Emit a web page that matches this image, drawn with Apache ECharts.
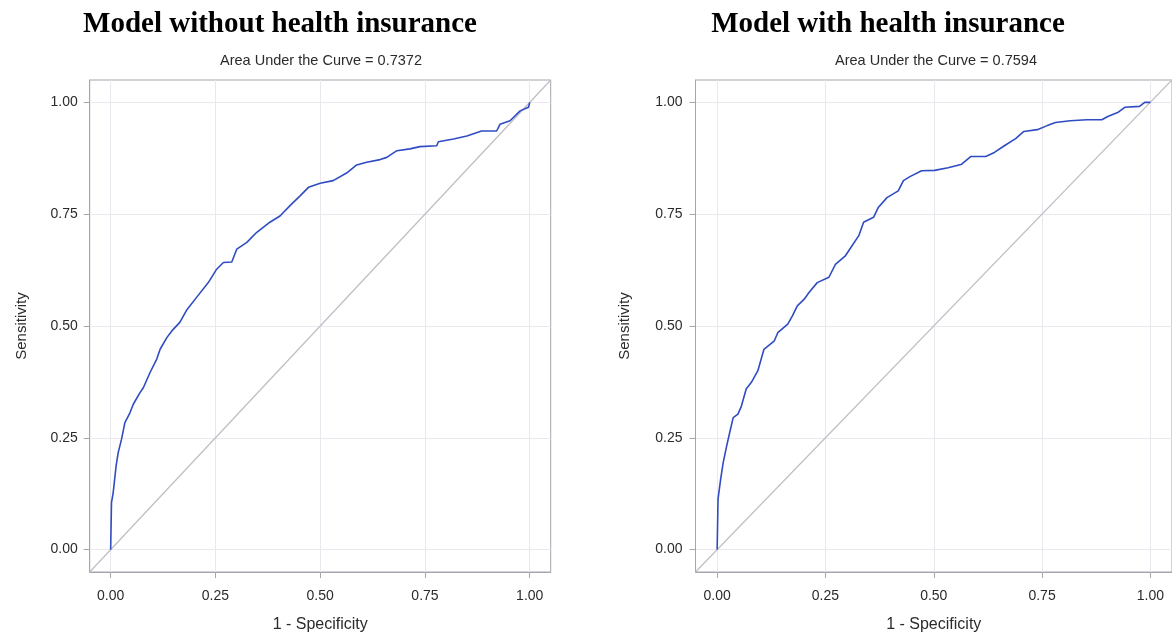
<!DOCTYPE html>
<html>
<head>
<meta charset="utf-8">
<script src="https://cdn.jsdelivr.net/npm/echarts@6/dist/echarts.min.js"></script>
<style>
html,body{margin:0;padding:0;background:#fff;}
#c{width:1172px;height:638px;}
</style>
</head>
<body>
<div id="c"></div>
<script>
// ---- data ----
const panelTitles = ['Model without health insurance', 'Model with health insurance'];
const aucLabels = ['Area Under the Curve = 0.7372', 'Area Under the Curve = 0.7594'];
const tickValues = [0, 0.25, 0.5, 0.75, 1];
const xAxisName = '1 - Specificity';
const yAxisName = 'Sensitivity';
const diagonal = [[-0.05, -0.05], [1.05, 1.05]];

const fprWithout = [0,0.002,0.006,0.013,0.018,0.026,0.034,0.046,0.054,0.070,0.078,0.094,0.110,0.118,0.134,0.146,0.165,0.181,0.205,0.233,0.253,0.269,0.289,0.301,0.325,0.348,0.380,0.404,0.428,0.452,0.472,0.500,0.531,0.563,0.587,0.611,0.643,0.659,0.683,0.714,0.738,0.778,0.782,0.818,0.850,0.885,0.921,0.929,0.953,0.977,0.997,1];
const tprWithout = [0,0.105,0.127,0.187,0.217,0.247,0.284,0.306,0.325,0.351,0.362,0.396,0.426,0.448,0.474,0.489,0.508,0.535,0.564,0.597,0.627,0.642,0.643,0.672,0.687,0.709,0.732,0.746,0.769,0.791,0.810,0.819,0.825,0.842,0.860,0.866,0.872,0.877,0.892,0.896,0.901,0.903,0.912,0.918,0.925,0.936,0.936,0.951,0.959,0.981,0.989,1];

const fprWith = [0,0.002,0.008,0.014,0.022,0.029,0.037,0.048,0.056,0.067,0.079,0.094,0.108,0.132,0.140,0.163,0.174,0.185,0.201,0.212,0.231,0.258,0.273,0.296,0.311,0.327,0.338,0.361,0.372,0.392,0.418,0.430,0.445,0.472,0.502,0.533,0.563,0.586,0.620,0.640,0.663,0.689,0.708,0.739,0.762,0.781,0.815,0.853,0.888,0.903,0.926,0.941,0.975,0.987,1];
const tprWith = [0,0.113,0.157,0.195,0.232,0.262,0.295,0.303,0.321,0.359,0.374,0.400,0.448,0.467,0.485,0.504,0.523,0.545,0.560,0.575,0.597,0.609,0.638,0.657,0.679,0.702,0.732,0.743,0.765,0.787,0.802,0.825,0.834,0.847,0.848,0.854,0.861,0.879,0.879,0.888,0.903,0.919,0.935,0.939,0.948,0.955,0.959,0.961,0.961,0.969,0.978,0.989,0.991,1.0,1];

// ---- styles ----
const axisColor = '#a6a6ae';
const gridLineColor = '#ece7ee';
const labelColor = '#2b2b2b';
const curveColor = '#2f4cc2';
const diagColor = '#bdbdc5';
const sansFont = 'Liberation Sans';

const zip = (a, b) => a.map((v, i) => [v, b[i]]);

const grids = [
  {left: 89.7, top: 80, width: 461, height: 492.7},
  {left: 695.5, top: 80, width: 480.5, height: 492.7}
];

function makeXAxis(i) {
  return {
    type: 'value', gridIndex: i, min: -0.05, max: 1.05,
    name: xAxisName, nameLocation: 'middle', nameGap: 45,
    nameTextStyle: {color: labelColor, fontFamily: sansFont, fontSize: 16},
    axisLine: {show: true, onZero: false, lineStyle: {color: axisColor, width: 1}},
    axisTick: {show: true, length: 6, customValues: tickValues, lineStyle: {color: axisColor}},
    axisLabel: {customValues: tickValues, margin: 17, color: labelColor, fontFamily: sansFont, fontSize: 14,
      formatter: v => v.toFixed(2)},
    splitLine: {show: true, lineStyle: {color: gridLineColor, width: 1}}
  };
}
function makeYAxis(i, gap, margin) {
  return {
    type: 'value', gridIndex: i, min: -0.05, max: 1.05,
    name: yAxisName, nameLocation: 'middle', nameGap: gap,
    nameTextStyle: {color: labelColor, fontFamily: sansFont, fontSize: 15},
    axisLine: {show: true, onZero: false, lineStyle: {color: axisColor, width: 1}},
    axisTick: {show: true, length: 6, customValues: tickValues, lineStyle: {color: axisColor}},
    axisLabel: {customValues: tickValues, margin: margin, color: labelColor, fontFamily: sansFont, fontSize: 14,
      formatter: v => v.toFixed(2)},
    splitLine: {show: true, lineStyle: {color: gridLineColor, width: 1}}
  };
}

const titleCenters = [280, 888];
const subCenters = [321, 936];

const graphic = [];
for (let i = 0; i < 2; i++) {
  graphic.push({type: 'text', x: titleCenters[i], y: 25, silent: true,
    style: {text: panelTitles[i], fill: '#000', font: 'bold 29px "Liberation Serif"', textAlign: 'center', textVerticalAlign: 'middle'}});
  graphic.push({type: 'text', x: subCenters[i], y: 61, silent: true,
    style: {text: aucLabels[i], fill: labelColor, font: '14.5px "Liberation Sans"', textAlign: 'center', textVerticalAlign: 'middle'}});
}

const series = [];
const curves = [zip(fprWithout, tprWithout), zip(fprWith, tprWith)];
for (let i = 0; i < 2; i++) {
  series.push({type: 'line', xAxisIndex: i, yAxisIndex: i, data: diagonal, showSymbol: false, silent: true,
    lineStyle: {color: diagColor, width: 1.2}, animation: false, z: 2});
  series.push({type: 'line', xAxisIndex: i, yAxisIndex: i, data: curves[i], showSymbol: false, silent: true,
    lineStyle: {color: curveColor, width: 1.6}, animation: false, z: 3});
}

const chart = echarts.init(document.getElementById('c'), null, {renderer: 'canvas'});
chart.setOption({
  backgroundColor: '#ffffff',
  animation: false,
  grid: grids.map(g => Object.assign({show: true, borderColor: axisColor, borderWidth: 1, backgroundColor: 'transparent', containLabel: false}, g)),
  xAxis: [makeXAxis(0), makeXAxis(1)],
  yAxis: [makeYAxis(0, 60, 12), makeYAxis(1, 63, 13)],
  graphic: graphic,
  series: series
});
</script>
</body>
</html>
